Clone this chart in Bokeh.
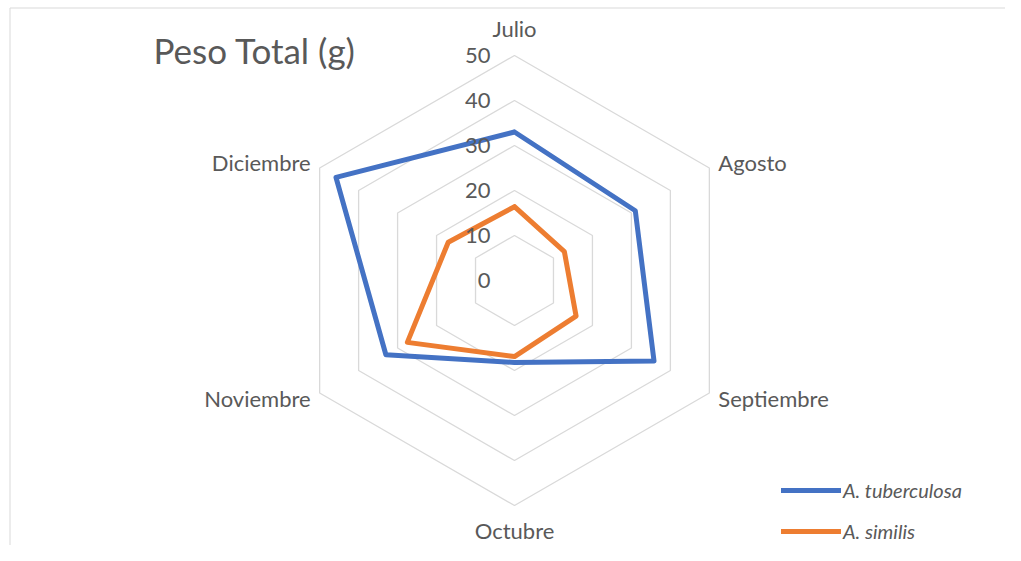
import math
from bokeh.plotting import figure
from bokeh.models import Range1d, Label, Legend, LegendItem, ColumnDataSource
from bokeh.core.properties import value
from bokeh.embed import file_html
from bokeh.resources import INLINE

months = ["Julio", "Agosto", "Septiembre", "Octubre", "Noviembre", "Diciembre"]
tuberculosa = [33.0, 31.0, 35.8, 18.2, 33.0, 45.8]
similis = [16.4, 12.8, 15.8, 16.9, 27.5, 17.0]
ticks = [0, 10, 20, 30, 40, 50]
series_names = ["A. tuberculosa", "A. similis"]

FONT = "Lato"
TXT = "#595959"
W, H = 1005, 545
PX = 4.5            # pixels per unit
CX, CY = 514, 280   # centre in frame pixels (from left, from top)

x0, x1 = -CX / PX, (W - CX) / PX
y0, y1 = -(H - CY) / PX, CY / PX
p = figure(width=W, height=H, output_backend="svg", toolbar_location=None,
           x_range=Range1d(x0, x1), y_range=Range1d(y0, y1),
           min_border=0, outline_line_color=None)
p.axis.visible = False
p.grid.visible = False
p.background_fill_color = "white"
p.border_fill_color = "white"

# chart border (left and top visible)
bx = x0 + 9.5 / PX
by = y1 - 7.5 / PX
p.segment(x0=[bx, bx], y0=[by, by], x1=[bx, x1 + 1], y1=[y0 - 1, by],
          line_color="#d9d9d9", line_width=1)

angles = [math.radians(90 - 60 * i) for i in range(len(months))]

def polar(vals):
    xs = [v * math.cos(a) for v, a in zip(vals, angles)]
    ys = [v * math.sin(a) for v, a in zip(vals, angles)]
    return xs + xs[:1], ys + ys[:1]

# rings
for t in ticks[1:]:
    xs, ys = polar([t] * len(months))
    p.line(xs, ys, line_color="#d9d9d9", line_width=1.3)

# series
colors = ["#4472C4", "#ED7D31"]
renderers = []
for vals, c in zip([tuberculosa, similis], colors):
    xs, ys = polar(vals)
    r = p.line(xs, ys, line_color=c, line_width=5, line_join="round", line_cap="round")
    renderers.append(r)

# tick labels
p.text(x=[0] * len(ticks), y=ticks, text=[str(t) for t in ticks], x_offset=-24,
       text_align="right", text_baseline="middle", text_font=value(FONT),
       text_font_size="22px", text_color=TXT)

# category labels
rmax = ticks[-1]
offs = [(0, -27, "center"), (9, -6, "left"), (9, 5, "left"),
        (0, 25, "center"), (-9, 5, "right"), (-9, -6, "right")]
src = ColumnDataSource(dict(
    x=[rmax * math.cos(a) for a in angles],
    y=[rmax * math.sin(a) for a in angles],
    t=months,
    xo=[o[0] for o in offs], yo=[o[1] for o in offs], al=[o[2] for o in offs]))
p.text(x="x", y="y", text="t", x_offset="xo", y_offset="yo", text_align="al",
       text_baseline="middle", text_font=value(FONT), text_font_size="22px",
       text_color=TXT, source=src)

# title
p.add_layout(Label(x=153, y=H - 49, x_units="screen", y_units="screen",
                   text="Peso Total (g)", text_font=FONT, text_font_size="35px",
                   text_color=TXT, text_baseline="middle"))

legend = Legend(items=[LegendItem(label=n, renderers=[r]) for n, r in zip(series_names, renderers)],
                location=(781, 2), glyph_width=60, glyph_height=20, label_height=20,
                label_standoff=2, spacing=17, padding=0, margin=0, border_line_color=None,
                background_fill_alpha=0, label_text_font=FONT,
                label_text_font_style="italic", label_text_font_size="20px",
                label_text_color=TXT)
p.add_layout(legend)

open("out.html", "w").write(file_html(p, INLINE))
